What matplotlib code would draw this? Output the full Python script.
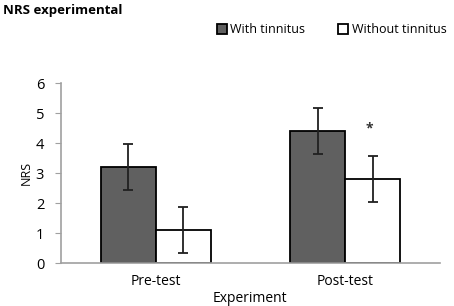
import numpy as np
import matplotlib.pyplot as plt

plt.rcParams['font.family'] = ['Open Sans', 'DejaVu Sans']

categories = ["Pre-test", "Post-test"]
with_tinnitus = [3.2, 4.4]
with_err = [0.77, 0.78]
without_tinnitus = [1.1, 2.8]
without_err = [0.76, 0.78]

fig = plt.figure(figsize=(4.54, 3.06), dpi=100)
ax = fig.add_axes([0.134, 0.1405, 0.835, 0.588])

x = np.arange(len(categories))
w = 0.29
ax.bar(x - w/2, with_tinnitus, w, color="#606060", edgecolor="black", linewidth=1.3,
       yerr=with_err, error_kw=dict(ecolor="#202020", elinewidth=1.3, capsize=3.5, capthick=1.3),
       label="With tinnitus")
ax.bar(x + w/2, without_tinnitus, w, color="white", edgecolor="black", linewidth=1.3,
       yerr=without_err, error_kw=dict(ecolor="#202020", elinewidth=1.3, capsize=3.5, capthick=1.3),
       label="Without tinnitus")

# significance marker
ax.text(1.13, 4.5, "*", ha="center", va="center", fontsize=10, fontweight="bold", color="#333333")

ax.set_xlim(-0.5, 1.5)
ax.set_ylim(0, 6)
ax.set_xticks(x)
ax.set_xticklabels(categories, fontsize=10)
ax.set_yticks(range(0, 7))
ax.tick_params(axis="y", labelsize=10.5, color="#a0a0a0", length=4, pad=8)
ax.tick_params(axis="x", length=0, pad=8)
for s in ["top", "right"]:
    ax.spines[s].set_visible(False)
for s in ["left", "bottom"]:
    ax.spines[s].set_color("#a0a0a0")
    ax.spines[s].set_linewidth(1.2)
ax.set_ylabel("NRS", fontsize=9, labelpad=2)
ax.set_xlabel("Experiment", fontsize=10, labelpad=1)

fig.text(0.007, 0.965, "NRS experimental", fontsize=9.5, fontweight="bold", va="center")
fig.legend(loc="center left", bbox_to_anchor=(0.477, 0.902), ncol=2, frameon=False,
           fontsize=9, handlelength=0.8, handleheight=0.8, columnspacing=2.6, handletextpad=0.3,
           borderaxespad=0, borderpad=0)

fig.savefig("out.png", dpi=100)
